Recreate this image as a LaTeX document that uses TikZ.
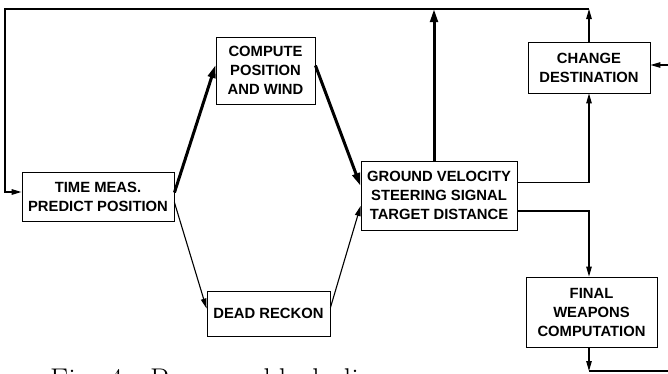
\documentclass[tikz,border=0pt]{standalone}
\usepackage{fontspec}
\newfontfamily\blockfont{Liberation Sans}
\usepackage{tikz}
\usetikzlibrary{arrows.meta, positioning, calc}

\begin{document}
\begin{tikzpicture}[x = 1pt, y = -1pt,
		block/.style = {draw, line width = 0.9pt, font = \blockfont\bfseries\fontsize{14.8}{19}\selectfont, align = center, inner sep = 0pt},
		flow/.style = {line width = 1.1pt, -{Triangle[length = 10pt, width = 5.5pt]}},
		mainflow/.style = {line width = 3pt, -{Triangle[length = 13pt, width = 7.5pt]}}]
		\useasboundingbox (0, 0) rectangle (668, 373);
		\node[block, minimum width = 152pt, minimum height = 49pt] (time) at (98, 196.5) {TIME MEAS.\\PREDICT POSITION};
		\node[block, minimum width = 99pt, minimum height = 67pt] (compute) at (265.5, 70.5) {COMPUTE\\POSITION\\AND WIND};
		\node[block, minimum width = 123pt, minimum height = 45pt] (dead) at (268.5, 313.5) {DEAD RECKON};
		\node[block, minimum width = 156pt, minimum height = 69pt] (ground) at (439, 195.5) {GROUND VELOCITY\\STEERING SIGNAL\\TARGET DISTANCE};
		\node[block, minimum width = 122pt, minimum height = 51pt] (change) at (589, 67.5) {CHANGE\\DESTINATION};
		\node[block, minimum width = 131pt, minimum height = 70pt] (final) at (591.5, 312) {FINAL\\WEAPONS\\COMPUTATION};
		% loop back over the top
		\coordinate (topR) at (589, 9);
		\coordinate (topL) at (5, 9);
		\coordinate (ext) at (668, 65);
		\coordinate (out) at (589, 371);
		\coordinate (outR) at (668, 371);
		\draw[mainflow] ([yshift = 4pt]time.east) -- ([yshift = 5.5pt]compute.west);
		\draw[mainflow] ([yshift = 5pt]compute.east) -- ([yshift = 9.5pt]ground.west);
		\draw[flow] ([yshift = -6pt]time.east) -- ([yshift = 5pt]dead.west);
		\draw[flow] ([yshift = 6pt]dead.east) -- ([yshift = -10.5pt]ground.west);
		\draw[mainflow] ([xshift = -5pt]ground.north) -- ([xshift = -5pt]ground.north |- topR);
		\draw[flow] (change.north) -- (topR);
		\draw[line width = 1.5pt, -{Triangle[length = 10pt, width = 5.5pt]}] (topR) -- (topL) |- ([yshift = 4.5pt]time.west);
		\draw[flow] ([yshift = 13pt]ground.east) -| (change.south);
		\draw[flow] ([yshift = -15.5pt]ground.east) -| (out |- final.north);
		\draw[flow] (ext) -- (change.east |- ext);
		\draw[flow] (out |- final.south) -- (out);
		\draw[line width = 1.1pt] (out) -- (outR);
		\node[anchor = base west, inner sep = 0pt, font = \fontsize{30}{30}\selectfont] (caption) at (50, 389) {Fig. 4 - Program block diagram};
	\end{tikzpicture}
\end{document}
